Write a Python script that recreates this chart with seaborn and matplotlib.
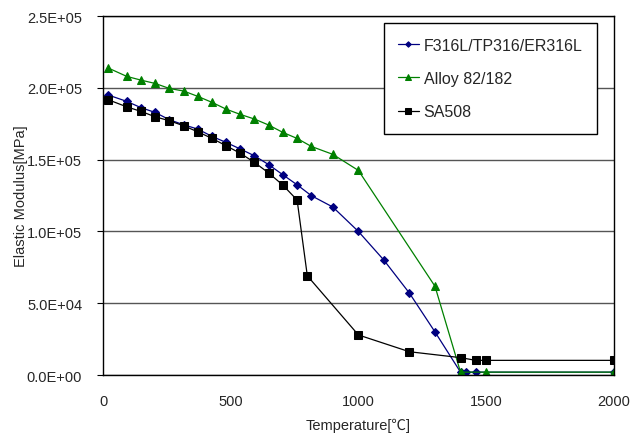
import matplotlib

matplotlib.use("Agg")

import matplotlib.pyplot as plt
import pandas as pd
import seaborn as sns
from matplotlib.ticker import FuncFormatter

# F316L/TP316/ER316L
temp_316 = [21, 93, 149, 204, 260, 316, 371, 427, 482, 538, 593, 649, 704, 760, 816,
            900, 1000, 1100, 1200, 1300, 1400, 1420, 1460, 2000]
mod_316 = [195000, 190600, 186200, 182900, 177800, 174300, 171300, 166200, 162000,
           157400, 152700, 146500, 139500, 132500, 124900, 117000, 100000, 80000,
           57000, 30000, 2000, 2000, 2000, 2000]

# Alloy 82/182
temp_alloy = [21, 93, 149, 204, 260, 316, 371, 427, 482, 538, 593, 649, 704, 760, 816,
              900, 1000, 1300, 1400, 1500, 2000]
mod_alloy = [213800, 208000, 205400, 203100, 199600, 197800, 194100, 189900, 185200,
             181500, 178300, 174100, 169000, 164800, 159200, 153700, 142500, 61800,
             2000, 2000, 2000]

# SA508
temp_sa = [21, 93, 149, 204, 260, 316, 371, 427, 482, 538, 593, 649, 704, 760, 800,
           1000, 1200, 1400, 1460, 1500, 2000]
mod_sa = [191700, 186800, 183600, 179900, 177100, 173600, 169400, 164800, 159700,
          154400, 148100, 140700, 132300, 121900, 69100, 27900, 16200, 12100, 10200,
          10200, 10200]

series = [
    ("F316L/TP316/ER316L", temp_316, mod_316, "#000080", "D", 4),
    ("Alloy 82/182", temp_alloy, mod_alloy, "#008000", "^", 6),
    ("SA508", temp_sa, mod_sa, "#000000", "s", 5.5),
]

sns.set_style("white")
plt.rcParams["font.family"] = ["Liberation Sans", "Noto Sans CJK JP", "DejaVu Sans"]

fig, ax = plt.subplots(figsize=(6.44, 4.39), dpi=100)
fig.subplots_adjust(left=0.16, right=0.953, bottom=0.1435, top=0.961)

for name, t, m, color, marker, ms in series:
    df = pd.DataFrame({"Temperature": t, "Modulus": m})
    sns.lineplot(data=df, x="Temperature", y="Modulus", ax=ax, color=color,
                 marker=marker, markersize=ms, markeredgecolor=color,
                 linewidth=0.9, label=name, sort=False, estimator=None)

ax.set_xlim(0, 2000)
ax.set_ylim(0, 250000)
ax.set_xticks([0, 500, 1000, 1500, 2000])
ax.set_yticks([0, 50000, 100000, 150000, 200000, 250000])
ax.yaxis.set_major_formatter(FuncFormatter(lambda v, p: f"{v:.1E}"))
ax.yaxis.grid(True, color="#555555", linewidth=1.0)
ax.set_axisbelow(True)

for s in ax.spines.values():
    s.set_color("black")
    s.set_linewidth(1.0)

ax.tick_params(axis="x", direction="in", length=4, labelsize=10.5, pad=14, color="black")
ax.tick_params(axis="y", direction="out", length=4, labelsize=10.5, pad=11,
               left=True, color="black")

ax.set_xlabel("Temperature[℃]", fontsize=10.5, labelpad=7)
ax.set_ylabel("Elastic Modulus[MPa]", fontsize=10.5, labelpad=-0.5)

leg = ax.legend(loc="upper right", bbox_to_anchor=(0.967, 0.98), borderaxespad=0,
                fontsize=11.5, labelspacing=1.15, handlelength=1.3, handletextpad=0.3,
                borderpad=0.9, markerscale=0.7, fancybox=False, framealpha=1)
leg.get_frame().set_edgecolor("black")
leg.get_frame().set_linewidth(1.0)

plt.savefig("out.png", dpi=100)
plt.close()
